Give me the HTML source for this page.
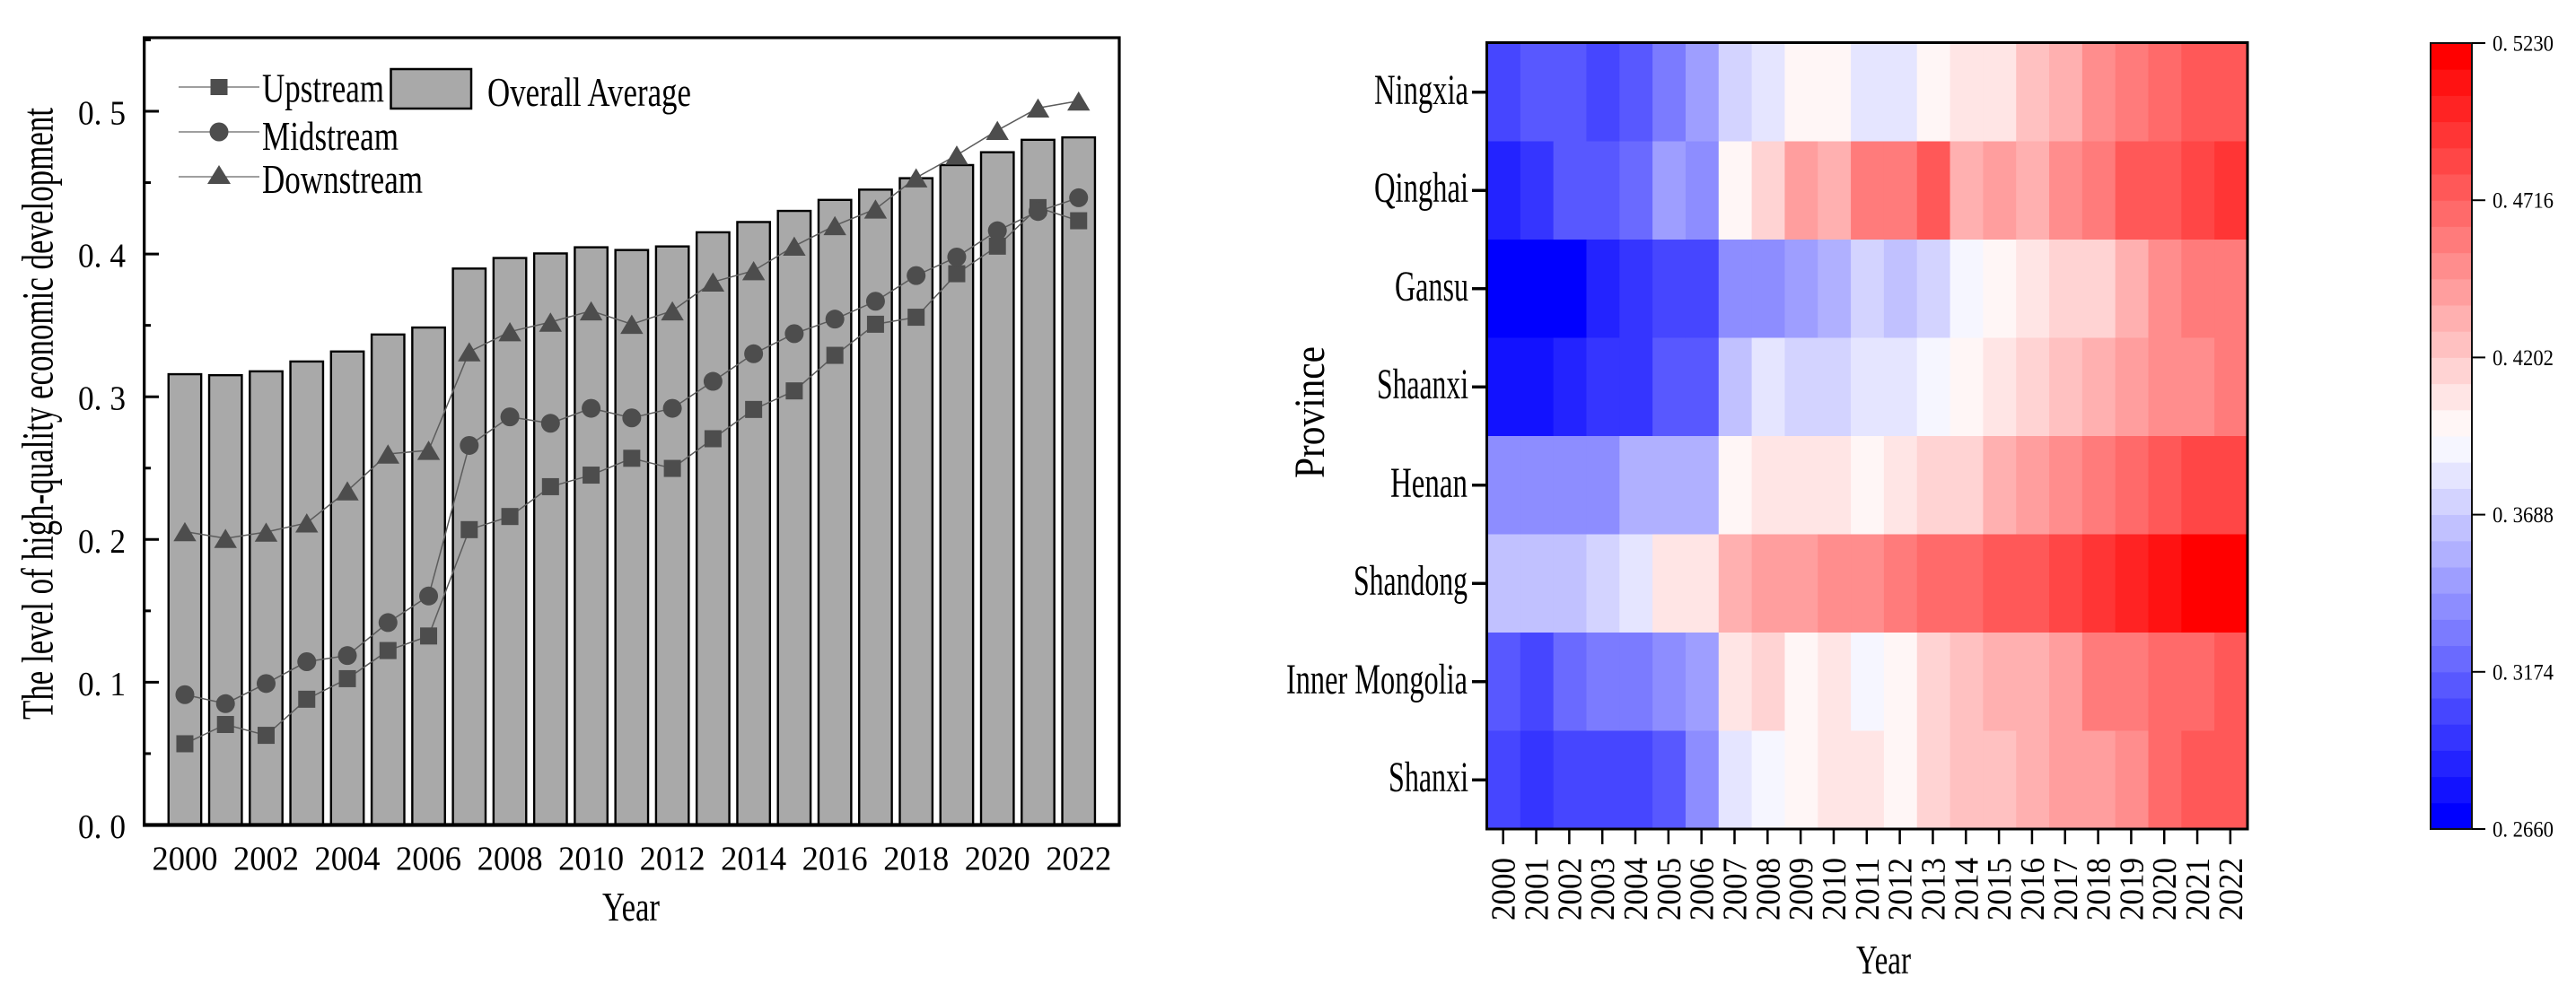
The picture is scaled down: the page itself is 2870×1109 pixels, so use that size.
<!DOCTYPE html>
<html lang="en">
<head>
<meta charset="utf-8">
<title>High-quality economic development charts</title>
<style>
html,body{margin:0;padding:0;background:#fff;width:2870px;height:1109px;overflow:hidden}
svg{display:block}
text{font-family:"Liberation Serif","Noto Serif CJK SC",serif;fill:#000}
</style>
</head>
<body>
<svg id="figure" xmlns="http://www.w3.org/2000/svg" width="2870" height="1109" viewBox="0 0 2870 1109">
  <g id="left-chart">
    <g id="bars"></g>
    <g id="lines"></g>
    <g id="markers"></g>
    <g id="left-axes"></g>
    <text transform="translate(58.500,802) rotate(-90)" font-size="50" textLength="682" lengthAdjust="spacingAndGlyphs">The level of high-quality economic development</text>
    <text x="671" y="1026" font-size="46" textLength="64" lengthAdjust="spacingAndGlyphs">Year</text>
    <g>
      <g>
        <line x1="199" x2="289" y1="97" y2="97" stroke="#666" stroke-width="1.3"/>
        <rect x="234.500" y="88" width="19" height="18" fill="#4d4d4d"/>
        <text x="292" y="113.500" font-size="46" textLength="136" lengthAdjust="spacingAndGlyphs">Upstream</text>
      </g>
      <g>
        <line x1="199" x2="289" y1="147" y2="147" stroke="#666" stroke-width="1.3"/>
        <circle cx="244" cy="147" r="10.500" fill="#4d4d4d"/>
        <text x="292" y="167" font-size="46" textLength="152" lengthAdjust="spacingAndGlyphs">Midstream</text>
      </g>
      <g>
        <line x1="199" x2="289" y1="197" y2="197" stroke="#666" stroke-width="1.3"/>
        <polygon points="244,184 257,205 231,205" fill="#4d4d4d"/>
        <text x="292" y="215" font-size="46" textLength="179" lengthAdjust="spacingAndGlyphs">Downstream</text>
      </g>
      <g>
        <rect x="435.500" y="77" width="89.500" height="44" fill="#a9a9a9" stroke="#000" stroke-width="2.500"/>
        <text x="543" y="118" font-size="46" textLength="227" lengthAdjust="spacingAndGlyphs">Overall Average</text>
      </g>
    </g>
  </g>
  <g id="right-chart">
    <g id="cells"></g>
    <rect x="1656.500" y="47.500" width="847.500" height="876.500" fill="none" stroke="#000" stroke-width="3"/>
    <g id="heat-axes"></g>
    <g font-size="48" text-anchor="end">
      <text x="1636" y="116" textLength="105" lengthAdjust="spacingAndGlyphs">Ningxia</text>
      <text x="1636" y="225" textLength="105" lengthAdjust="spacingAndGlyphs">Qinghai</text>
      <text x="1636" y="335" textLength="82" lengthAdjust="spacingAndGlyphs">Gansu</text>
      <text x="1636" y="444" textLength="102" lengthAdjust="spacingAndGlyphs">Shaanxi</text>
      <text x="1635" y="554" textLength="86" lengthAdjust="spacingAndGlyphs">Henan</text>
      <text x="1635" y="663" textLength="127" lengthAdjust="spacingAndGlyphs">Shandong</text>
      <text x="1635" y="773" textLength="202" lengthAdjust="spacingAndGlyphs">Inner Mongolia</text>
      <text x="1636" y="882" textLength="89" lengthAdjust="spacingAndGlyphs">Shanxi</text>
    </g>
    <text transform="translate(1475,533) rotate(-90)" font-size="48" textLength="147" lengthAdjust="spacingAndGlyphs">Province</text>
    <text x="2068" y="1085" font-size="46" textLength="61" lengthAdjust="spacingAndGlyphs">Year</text>
    <g id="colorbar"></g>
  </g>
</svg>
<script>
const years = ['2000','2001','2002','2003','2004','2005','2006','2007','2008','2009','2010','2011','2012','2013','2014','2015','2016','2017','2018','2019','2020','2021','2022'];
const overallAverage = [0.3158,0.3151,0.3178,0.3247,0.3317,0.3436,0.3485,0.3898,0.3972,0.4004,0.4047,0.4028,0.4053,0.4152,0.4224,0.4302,0.4379,0.4451,0.4531,0.4623,0.4713,0.4800,0.4817];
const upstream = [0.0569,0.0704,0.0628,0.0881,0.1025,0.1222,0.1324,0.2069,0.2161,0.2370,0.2451,0.2569,0.2498,0.2706,0.2911,0.3041,0.3290,0.3508,0.3557,0.3862,0.4055,0.4325,0.4233];
const midstream = [0.0913,0.0850,0.0991,0.1144,0.1187,0.1418,0.1604,0.2659,0.2859,0.2814,0.2919,0.2852,0.2919,0.3108,0.3301,0.3442,0.3544,0.3669,0.3849,0.3979,0.4163,0.4298,0.4394];
const downstream = [0.2055,0.2008,0.2052,0.2116,0.2341,0.2599,0.2625,0.3315,0.3456,0.3523,0.3602,0.3508,0.3602,0.3804,0.3883,0.4055,0.4199,0.4315,0.4534,0.4693,0.4866,0.5023,0.5072];
const yTicks = ['0.0','0.1','0.2','0.3','0.4','0.5'];
const yMinorTicks = [0.05,0.15,0.25,0.35,0.45,0.55];
const xTickLabels = ['2000','2002','2004','2006','2008','2010','2012','2014','2016','2018','2020','2022'];

const provinces = ['Ningxia','Qinghai','Gansu','Shaanxi','Henan','Shandong','Inner Mongolia','Shanxi'];
const ningxia = [0.3046,0.3131,0.3131,0.3046,0.3131,0.3303,0.3474,0.3731,0.3817,0.3988,0.3988,0.3817,0.3817,0.3988,0.4074,0.4074,0.4245,0.4331,0.4503,0.4588,0.4674,0.4760,0.4760];
const qinghai = [0.2874,0.2960,0.3131,0.3131,0.3217,0.3474,0.3388,0.3988,0.4160,0.4417,0.4331,0.4588,0.4588,0.4760,0.4331,0.4417,0.4331,0.4503,0.4588,0.4760,0.4760,0.4845,0.4931];
const gansu = [0.2703,0.2703,0.2703,0.2874,0.2960,0.3046,0.3046,0.3388,0.3388,0.3474,0.3560,0.3731,0.3646,0.3731,0.3903,0.3988,0.4074,0.4160,0.4160,0.4331,0.4503,0.4588,0.4588];
const shaanxi = [0.2789,0.2789,0.2874,0.2960,0.2960,0.3131,0.3131,0.3646,0.3817,0.3731,0.3731,0.3817,0.3817,0.3903,0.3988,0.4074,0.4160,0.4245,0.4331,0.4417,0.4503,0.4503,0.4588];
const henan = [0.3388,0.3388,0.3388,0.3388,0.3560,0.3560,0.3560,0.3988,0.4074,0.4074,0.4074,0.3988,0.4074,0.4160,0.4160,0.4331,0.4417,0.4503,0.4588,0.4674,0.4760,0.4845,0.4845];
const shandong = [0.3646,0.3646,0.3646,0.3731,0.3817,0.4074,0.4074,0.4331,0.4417,0.4417,0.4503,0.4503,0.4588,0.4674,0.4674,0.4760,0.4760,0.4845,0.4931,0.5017,0.5103,0.5188,0.5188];
const innerMongolia = [0.3131,0.3046,0.3217,0.3303,0.3303,0.3388,0.3474,0.4074,0.4160,0.3988,0.4074,0.3903,0.3988,0.4160,0.4245,0.4331,0.4331,0.4417,0.4588,0.4588,0.4674,0.4674,0.4760];
const shanxi = [0.3046,0.2960,0.3046,0.3046,0.3046,0.3131,0.3388,0.3817,0.3903,0.3988,0.4074,0.4074,0.3988,0.4160,0.4245,0.4245,0.4331,0.4417,0.4417,0.4503,0.4674,0.4760,0.4760];
const heatRows = [ningxia,qinghai,gansu,shaanxi,henan,shandong,innerMongolia,shanxi];
const colorbarTicks = ['0.5230','0.4716','0.4202','0.3688','0.3174','0.2660'];
const colorLevelCount = 30;

const NS = 'http://www.w3.org/2000/svg';
function mk(tag, attrs, parent) {
  const el = document.createElementNS(NS, tag);
  for (const k in attrs) el.setAttribute(k, attrs[k]);
  parent.appendChild(el);
  return el;
}
const $ = id => document.getElementById(id);

/* left chart axis functions */
const plotLeft = 160.7, plotRight = 1247, plotTop = 42, plotBottom = 919.5;
const xStep = (plotRight - plotLeft) / (years.length + 1);
const xScale = i => plotLeft + xStep * (i + 1);
const yScale = v => plotBottom - v * 1591;

years.forEach((yr, i) => {
  const top = yScale(overallAverage[i]);
  const bar = mk('rect', {x: xScale(i) - 18.2, y: top, width: 36.4, height: plotBottom - top, fill: '#a9a9a9', stroke: '#000', 'stroke-width': 2.4}, $('bars'));
  
  
});

function drawLine(values, name) {
  const pts = values.map((v, i) => xScale(i) + ',' + yScale(v)).join(' ');
  const line = mk('polyline', {points: pts, fill: 'none', stroke: '#5c5c5c', 'stroke-width': 1.5}, $('lines'));
  
  
}
drawLine(upstream, 'upstream');
drawLine(midstream, 'midstream');
drawLine(downstream, 'downstream');

upstream.forEach((v, i) => {
  const m = mk('rect', {x: xScale(i) - 9.5, y: yScale(v) - 9.5, width: 19, height: 19, fill: '#4d4d4d'}, $('markers'));
  
  
});
midstream.forEach((v, i) => {
  const m = mk('circle', {cx: xScale(i), cy: yScale(v), r: 10.5, fill: '#4d4d4d'}, $('markers'));
  
  
});
downstream.forEach((v, i) => {
  const cx = xScale(i), cy = yScale(v);
  const m = mk('polygon', {points: cx + ',' + (cy - 10.7) + ' ' + (cx + 12.7) + ',' + (cy + 10.7) + ' ' + (cx - 12.7) + ',' + (cy + 10.7), fill: '#4d4d4d'}, $('markers'));
  
  
});

const frame = mk('rect', {x: plotLeft, y: plotTop, width: plotRight - plotLeft, height: plotBottom - plotTop, fill: 'none', stroke: '#000', 'stroke-width': 3.2}, $('left-axes'));


const baseline = mk('line', {x1: plotLeft - 1.6, x2: plotRight + 1.6, y1: plotBottom, y2: plotBottom, stroke: '#000', 'stroke-width': 4.2}, $('left-axes'));



yTicks.forEach(label => {
  const y = yScale(parseFloat(label));
  const tick = mk('line', {x1: plotLeft, x2: 177, y1: y, y2: y, stroke: '#000', 'stroke-width': 3}, $('left-axes'));
  
  
  const t = mk('text', {x: 87, y: y + 14.5, 'font-size': 38, textLength: 53, lengthAdjust: 'spacingAndGlyphs'}, $('left-axes'));
  
  
  t.textContent = label.replace('.', '. ');
});
yMinorTicks.forEach(v => {
  const y = yScale(v);
  const tick = mk('line', {x1: plotLeft, x2: 168, y1: y, y2: y, stroke: '#000', 'stroke-width': 3}, $('left-axes'));
  
  
});
xTickLabels.forEach(label => {
  const cx = xScale(years.indexOf(label));
  const t = mk('text', {x: cx - 36.5, y: 969.5, 'font-size': 38, textLength: 73, lengthAdjust: 'spacingAndGlyphs'}, $('left-axes'));
  
  
  t.textContent = label;
});

/* heatmap axis functions */
const heatLeft = 1657, heatRight = 2504, heatTop = 48, heatBottom = 924;
const colW = (heatRight - heatLeft) / years.length;
const rowH = (heatBottom - heatTop) / provinces.length;
const colX = i => heatLeft + colW * i;
const rowY = i => heatTop + rowH * i;
const colorMin = parseFloat(colorbarTicks[colorbarTicks.length - 1]);
const colorMax = parseFloat(colorbarTicks[0]);
function levelColor(level) {
  const t = level / (colorLevelCount - 1);
  if (t < 0.5) {
    const c = Math.round(255 * t * 2);
    return 'rgb(' + c + ',' + c + ',255)';
  }
  const c = Math.round(255 * (1 - t) * 2);
  return 'rgb(255,' + c + ',' + c + ')';
}
function valueColor(v) {
  const raw = Math.floor((v - colorMin) / (colorMax - colorMin) * colorLevelCount);
  return levelColor(Math.max(0, Math.min(colorLevelCount - 1, raw)));
}
heatRows.forEach((row, r) => {
  row.forEach((v, c) => {
    const cell = mk('rect', {x: colX(c), y: rowY(r), width: colW + 0.6, height: rowH + 0.6, fill: valueColor(v)}, $('cells'));
    
    
  });
});
provinces.forEach((name, r) => {
  const y = rowY(r) + rowH / 2;
  const tick = mk('line', {x1: 1640, x2: 1656, y1: y, y2: y, stroke: '#000', 'stroke-width': 3.4}, $('heat-axes'));
  
  
});
years.forEach((yr, c) => {
  const cx = colX(c) + colW / 2 - 0.7;
  const tick = mk('line', {x1: cx, x2: cx, y1: 924, y2: 941, stroke: '#000', 'stroke-width': 2.5}, $('heat-axes'));
  
  
  const t = mk('text', {transform: 'translate(' + (cx + 13) + ',1026) rotate(-90)', 'font-size': 38, textLength: 70, lengthAdjust: 'spacingAndGlyphs'}, $('heat-axes'));
  
  
  t.textContent = yr;
});

/* colorbar */
const cbLeft = 2708, cbRight = 2754, cbTop = 48, cbBottom = 924;
const cbScale = v => cbBottom - (v - colorMin) / (colorMax - colorMin) * (cbBottom - cbTop);
const cbStep = (cbBottom - cbTop) / colorLevelCount;
for (let l = 0; l < colorLevelCount; l++) {
  const band = mk('rect', {x: cbLeft, y: cbBottom - cbStep * (l + 1), width: cbRight - cbLeft, height: cbStep + 0.5, fill: levelColor(l)}, $('colorbar'));
  
  
}
const cbFrame = mk('rect', {x: cbLeft, y: cbTop, width: cbRight - cbLeft, height: cbBottom - cbTop, fill: 'none', stroke: '#111', 'stroke-width': 2}, $('colorbar'));


colorbarTicks.forEach(label => {
  const y = cbScale(parseFloat(label));
  const tick = mk('line', {x1: cbRight, x2: 2769, y1: y, y2: y, stroke: '#000', 'stroke-width': 2}, $('colorbar'));
  
  
  const t = mk('text', {x: 2777, y: y + 8.5, 'font-size': 25, textLength: 68, lengthAdjust: 'spacingAndGlyphs'}, $('colorbar'));
  
  
  t.textContent = label.replace('.', '. ');
});
</script>
</body>
</html>
